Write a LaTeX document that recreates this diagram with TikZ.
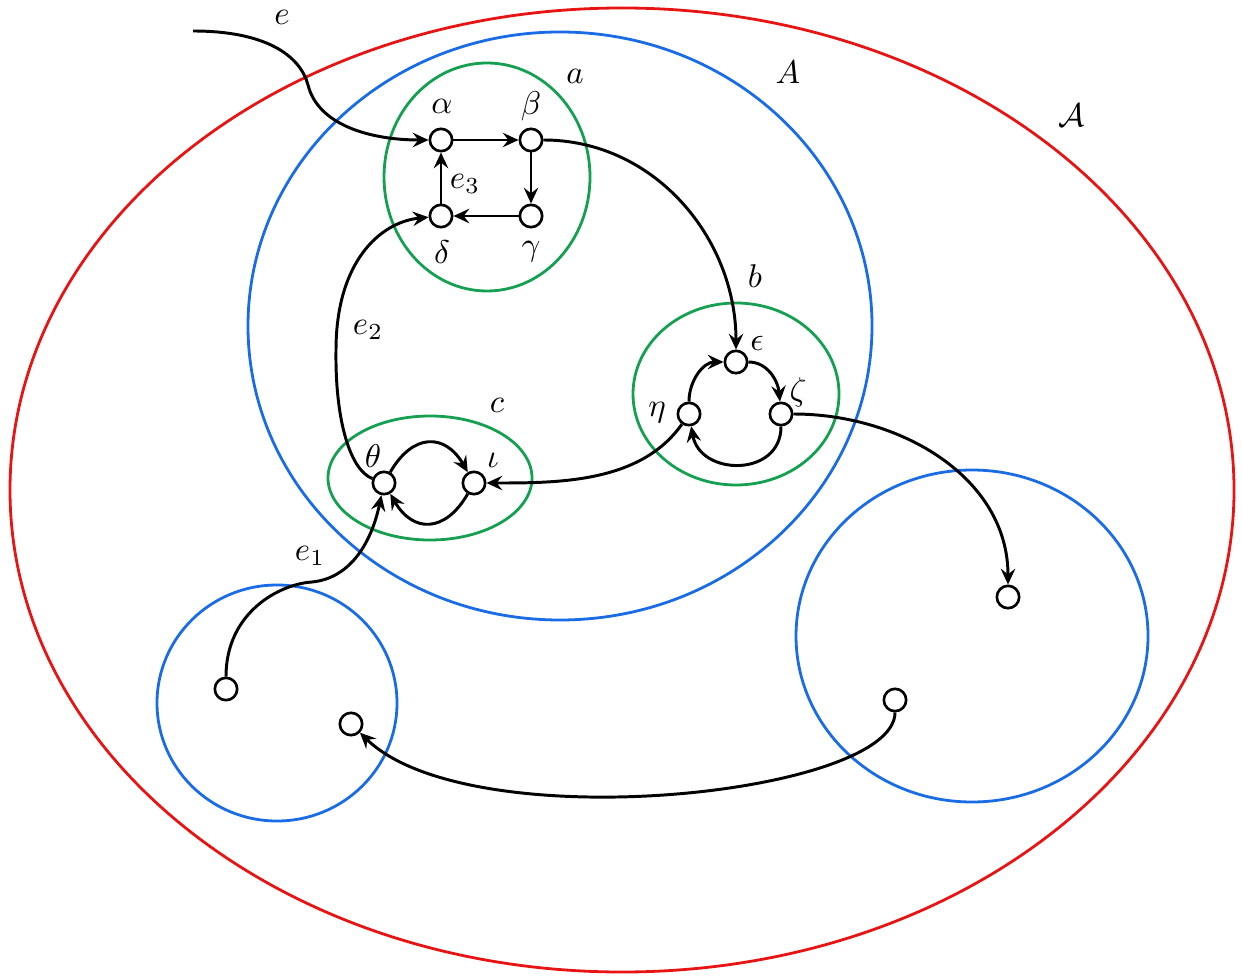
\documentclass[tikz,border=0pt]{standalone}
\usetikzlibrary{arrows.meta}
\definecolor{cred}{RGB}{232,20,20}
\definecolor{cblue}{RGB}{26,108,230}
\definecolor{cgreen}{RGB}{20,160,80}
\begin{document}
\begin{tikzpicture}[x=0.0107cm,y=-0.0107cm,
  vtx/.style={circle,draw,line width=0.8pt,inner sep=0pt,minimum size=6.8pt,fill=white},
  lbl/.style={inner sep=0pt},
  edge/.style={line width=0.9pt,-{Stealth[length=4.8pt,width=4.4pt,inset=1.7pt]}},
  region/.style={line width=0.85pt}]
\useasboundingbox (0,0) rectangle (1242,976);
% regions
\draw[region,cred] (622,490) ellipse [x radius=612, y radius=482];
\draw[region,cblue] (560,326) ellipse [x radius=312, y radius=294];
\draw[region,cgreen] (487,177) ellipse [x radius=103, y radius=114];
\draw[region,cgreen] (736,394) ellipse [x radius=103, y radius=91];
\draw[region,cgreen] (430,478) ellipse [x radius=102, y radius=62];
\draw[region,cblue] (277,703) ellipse [x radius=120, y radius=118];
\draw[region,cblue] (972,636) ellipse [x radius=176, y radius=166];
% region labels
\node[lbl] (lA) at (788,72) {$A$};
\node[lbl] (lcalA) at (1072,115) {$\mathcal{A}$};
\node[lbl] (la) at (575,76) {$a$};
\node[lbl] (lb) at (755,276) {$b$};
\node[lbl] (lc) at (497,405) {$c$};
% vertices
\node[vtx] (al) at (441,140) {};
\node[vtx] (be) at (531,140) {};
\node[vtx] (ga) at (531,216) {};
\node[vtx] (de) at (441,216) {};
\node[vtx] (ep) at (736,362) {};
\node[vtx] (ze) at (781,414) {};
\node[vtx] (et) at (689,414) {};
\node[vtx] (th) at (384,483) {};
\node[vtx] (io) at (474,483) {};
\node[vtx] (l1) at (226,689) {};
\node[vtx] (l2) at (351,724) {};
\node[vtx] (r1) at (1008,597) {};
\node[vtx] (r2) at (895,700) {};
\coordinate (s) at (193,31);
% vertex labels
\node[lbl] (tal) at (442,106) {$\alpha$};
\node[lbl] (tbe) at (531,106) {$\beta$};
\node[lbl] (tga) at (531,252) {$\gamma$};
\node[lbl] (tde) at (442,252) {$\delta$};
\node[lbl] (tep) at (757,343) {$\epsilon$};
\node[lbl] (tze) at (798,392) {$\zeta$};
\node[lbl] (tet) at (657,413) {$\eta$};
\node[lbl] (tth) at (373,456) {$\theta$};
\node[lbl] (tio) at (493,460) {$\iota$};
% edge labels
\node[lbl] (te) at (282,17) {$e$};
\node[lbl] (te3) at (465,184) {$e_3$};
\node[lbl] (te2) at (368,330) {$e_2$};
\node[lbl] (te1) at (310,556) {$e_1$};
% edges
\draw[edge] (s) .. controls (265,31) and (300,55) .. (308,85) .. controls (318,125) and (370,140) .. (al);
\draw[edge] (al) -- (be);
\draw[edge] (be) -- (ga);
\draw[edge] (ga) -- (de);
\draw[edge] (de) -- (al);
\draw[edge] (be) to[out=0,in=90] (ep);
\draw[edge] (ep) to[out=0,in=95] (ze);
\draw[edge] (ze) to[out=-90,in=-80,looseness=1.45] (et);
\draw[edge] (et) to[out=90,in=180] (ep);
\draw[edge] (et) to[out=-125,in=0,looseness=0.9] (io);
\draw[edge] (th) to[out=60,in=120,looseness=1.5] (io);
\draw[edge] (io) to[out=-120,in=-60,looseness=1.5] (th);
\draw[edge] (th) .. controls (350,470) and (335,420) .. (336,350) .. controls (336,262) and (380,222) .. (de);
\draw[edge] (l1) .. controls (226,612) and (280,584) .. (312,582) .. controls (352,578) and (372,540) .. (th);
\draw[edge] (ze) to[out=0,in=90] (r1);
\draw[edge] (r2) .. controls (895,795) and (470,840) .. (l2);
\end{tikzpicture}
\end{document}
